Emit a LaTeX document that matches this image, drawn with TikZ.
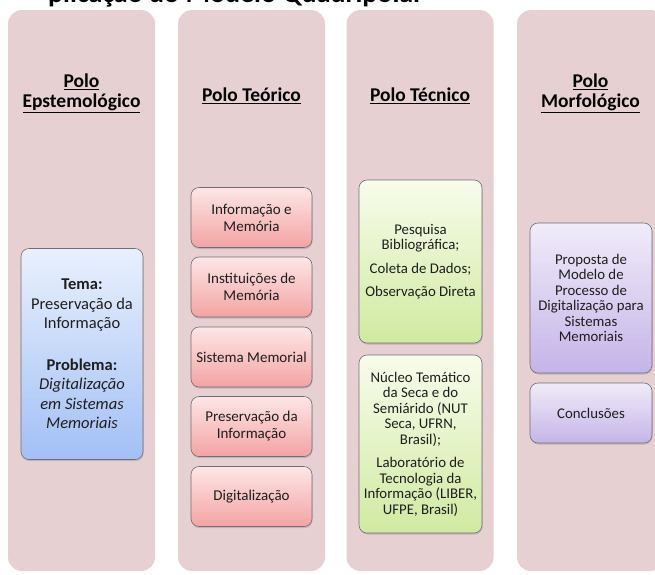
\documentclass[tikz,border=0pt]{standalone}
\usepackage{fontspec}
\setmainfont{Carlito}
\usetikzlibrary{shadows}
\definecolor{colbg}{HTML}{E7D0D1}
\definecolor{pinkTop}{HTML}{FDE6E6}
\definecolor{pinkBot}{HTML}{F4A3A3}
\definecolor{blueTop}{HTML}{E9F0FD}
\definecolor{blueBot}{HTML}{A2C0F5}
\definecolor{greenTop}{HTML}{F8FCEC}
\definecolor{greenBot}{HTML}{D0EAA0}
\definecolor{purpTop}{HTML}{F0ECF9}
\definecolor{purpBot}{HTML}{C5B4E8}
\definecolor{boxline}{HTML}{6E6E78}
\definecolor{txt}{HTML}{1E1E1E}
\tikzset{
  column/.style={rounded corners=14pt, fill=colbg, minimum width=147pt, minimum height=561pt, inner sep=0pt},
  header/.style={align=center, text=black, font=\fontsize{19.5}{20}\selectfont\bfseries},
  card/.style={rounded corners=8pt, draw=boxline, line width=0.6pt, align=center, text=txt, inner sep=2pt,
    drop shadow={opacity=0.35, shadow xshift=0.6pt, shadow yshift=-1.6pt}},
  pinkcard/.style={card, top color=pinkTop, bottom color=pinkBot, minimum width=121pt, minimum height=60pt,
    font=\fontsize{15}{17}\selectfont},
  bluecard/.style={card, top color=blueTop, bottom color=blueBot, minimum width=122pt, minimum height=211pt,
    font=\fontsize{16.5}{19.5}\selectfont},
  greencard/.style={card, top color=greenTop, bottom color=greenBot, minimum width=123pt,
    font=\fontsize{14.8}{15.5}\selectfont},
  purpcard/.style={card, top color=purpTop, bottom color=purpBot, minimum width=122pt,
    font=\fontsize{14.8}{15.5}\selectfont},
}
\begin{document}
\begin{tikzpicture}[x=1pt, y=-1pt]
\path[use as bounding box] (0,0) rectangle (655,574);
\clip (0,0) rectangle (655,574);
% cut-off title at the top
\node[anchor=base west, inner sep=0pt, text=black, font=\fontsize{28}{30}\selectfont\bfseries] (title) at (48,2) {plicação do Modelo Quadripolar};
% columns
\node[column] (c1) at (81.5,290.5) {};
\node[column] (c2) at (251.5,290.5) {};
\node[column] (c3) at (420,290.5) {};
\node[column] (c4) at (590.5,290.5) {};
% headers
\node[header] (h1) at (81.5,93) {\underline{Polo}\\\underline{Epstemológico}};
\node[header] (h2) at (251.5,96) {\underline{Polo Teórico}};
\node[header] (h3) at (420,96) {\underline{Polo Técnico}};
\node[header] (h4) at (590.5,93) {\underline{Polo}\\\underline{Morfológico}};
% epistemological pole
\node[bluecard] (b1) at (82,354) {\textbf{Tema:}\\Preservação da\\Informação\\[22pt]\textbf{Problema:}\\\textit{Digitalização}\\\textit{em Sistemas}\\\textit{Memoriais}};
% theoretical pole
\node[pinkcard] (t1) at (251.5,217.5) {Informação e\\Memória};
\node[pinkcard] (t2) at (251.5,287) {Instituições de\\Memória};
\node[pinkcard] (t3) at (251.5,357) {Sistema Memorial};
\node[pinkcard] (t4) at (251.5,426.5) {Preservação da\\Informação};
\node[pinkcard] (t5) at (251.5,496.5) {Digitalização};
% technical pole
\node[greencard, minimum height=163pt] (g1) at (420.5,261.5) {Pesquisa\\Bibliográfica;\\[8pt]Coleta de Dados;\\[8pt]Observação Direta};
\node[greencard, minimum height=178pt] (g2) at (420.5,444) {Núcleo Temático\\da Seca e do\\Semiárido (NUT\\Seca, UFRN,\\Brasil);\\[8pt]Laboratório de\\Tecnologia da\\Informação (LIBER,\\UFPE, Brasil)};
% morphological pole
\node[purpcard, minimum height=150pt] (m1) at (591,298) {Proposta de\\Modelo de\\Processo de\\Digitalização para\\Sistemas\\Memoriais};
\node[purpcard, minimum height=60pt] (m2) at (591,413) {Conclusões};
\end{tikzpicture}
\end{document}
